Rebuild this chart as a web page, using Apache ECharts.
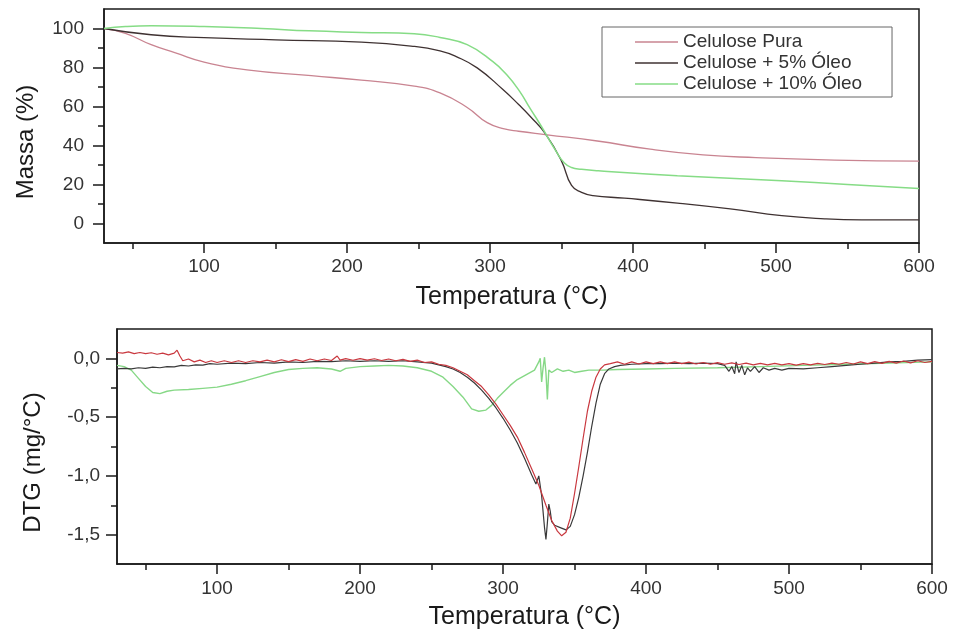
<!DOCTYPE html>
<html>
<head>
<meta charset="utf-8">
<script src="https://cdn.jsdelivr.net/npm/echarts@6.0.0/dist/echarts.min.js"></script>
<style>
html,body{margin:0;padding:0;background:#fff;}
#chart{width:953px;height:634px;}
</style>
</head>
<body>
<div id="chart"></div>
<script>
// ---- Data ----
var seriesNames = ['Celulose Pura', 'Celulose + 5% Óleo', 'Celulose + 10% Óleo'];

var xMajorTicks = [100, 200, 300, 400, 500, 600];
var xMinorTicks = [50, 150, 250, 350, 450, 550];
var tgaMajorTicks = [0, 20, 40, 60, 80, 100];
var tgaMinorTicks = [10, 30, 50, 70, 90];
var dtgMajorTicks = [-1.5, -1.0, -0.5, 0.0];
var dtgMinorTicks = [-1.25, -0.75, -0.25];

// TGA mass (%) vs temperature (°C)
var tgaPura = [[30,100],[45,97.5],[63,91.7],[80,87.5],[100,82.8],[130,78.8],[175,75.8],[210,73.5],[247,70.4],[265,67],[284,59.5],[298,51.7],[310,48.5],[320,47.3],[340,45.5],[375,42.3],[412,38.1],[449,35.2],[486,33.8],[541,32.5],[600,32]];
var tga5 = [[30,100],[63,96.8],[100,95.3],[150,94.2],[210,93],[247,90.8],[265,88.5],[276,85.7],[291,79.8],[309,68.7],[320,61],[328,55],[339,45.7],[350,32],[357,19.5],[364,16],[372,14.3],[394,13],[431,10.5],[468,7.5],[504,4],[534,2.4],[560,1.9],[600,1.9]];
var tga10 = [[30,100],[45,101],[63,101.4],[100,101],[140,100],[173.5,98.8],[210,98],[247,97.3],[265,95.4],[284,91.7],[302,83],[312,76],[320.6,67.9],[328,59],[335,50.9],[346,37.2],[352,31],[357,28.7],[364,27.8],[375.7,27],[431,24.5],[504,21.9],[550,20],[600,17.9]];

// DTG (mg/°C) vs temperature (°C)
var dtgRed = [[30,0.05],[34,0.045],[38,0.055],[42,0.04],[46,0.05],[50,0.04],[54,0.048],[58,0.035],[62,0.045],[66,0.03],[70,0.045],[72,0.07],[74,0.02],[76,-0.02],[80,-0.005],[84,-0.03],[88,-0.015],[92,-0.035],[96,-0.02],[100,-0.035],[105,-0.02],[110,-0.035],[115,-0.02],[120,-0.035],[125,-0.02],[130,-0.03],[135,-0.015],[140,-0.03],[145,-0.012],[150,-0.028],[155,-0.01],[160,-0.025],[165,-0.005],[170,-0.02],[175,-0.005],[180,-0.018],[184,0.02],[186,-0.015],[190,-0.002],[195,-0.016],[200,-0.002],[205,-0.015],[210,-0.003],[215,-0.018],[220,-0.005],[225,-0.02],[230,-0.008],[235,-0.025],[240,-0.015],[245,-0.035],[250,-0.03],[255,-0.05],[260,-0.06],[265,-0.08],[270,-0.11],[275,-0.14],[280,-0.19],[285,-0.24],[290,-0.31],[295,-0.39],[300,-0.48],[305,-0.57],[310,-0.67],[315,-0.8],[320,-0.94],[325,-1.08],[330,-1.25],[334,-1.38],[338,-1.47],[341,-1.51],[344,-1.48],[347,-1.36],[350,-1.15],[353,-0.92],[356,-0.68],[359,-0.45],[362,-0.28],[365,-0.16],[368,-0.09],[371,-0.055],[375,-0.045],[380,-0.03],[385,-0.05],[390,-0.03],[395,-0.048],[400,-0.03],[405,-0.045],[410,-0.03],[415,-0.045],[420,-0.03],[425,-0.045],[430,-0.032],[435,-0.048],[440,-0.035],[445,-0.05],[450,-0.036],[455,-0.05],[460,-0.038],[465,-0.052],[470,-0.04],[475,-0.055],[480,-0.042],[485,-0.055],[490,-0.042],[495,-0.055],[500,-0.045],[505,-0.058],[510,-0.045],[515,-0.055],[520,-0.042],[525,-0.052],[530,-0.04],[535,-0.05],[540,-0.035],[545,-0.048],[550,-0.03],[555,-0.045],[560,-0.028],[565,-0.042],[570,-0.025],[575,-0.04],[580,-0.022],[585,-0.038],[590,-0.02],[595,-0.035],[600,-0.025]];
var dtgBlack = [[30,-0.09],[35,-0.085],[40,-0.09],[45,-0.08],[50,-0.085],[55,-0.075],[60,-0.08],[65,-0.07],[70,-0.072],[75,-0.06],[80,-0.065],[85,-0.055],[90,-0.058],[95,-0.045],[100,-0.05],[110,-0.04],[120,-0.045],[130,-0.035],[140,-0.04],[150,-0.03],[160,-0.035],[170,-0.025],[180,-0.028],[190,-0.02],[200,-0.025],[210,-0.02],[220,-0.025],[230,-0.02],[240,-0.03],[250,-0.04],[255,-0.055],[260,-0.07],[265,-0.09],[270,-0.12],[275,-0.16],[280,-0.21],[285,-0.27],[290,-0.34],[295,-0.42],[300,-0.51],[305,-0.61],[310,-0.72],[315,-0.85],[320,-0.99],[323,-1.07],[325,-1.0],[327,-1.17],[329,-1.44],[330,-1.54],[331,-1.4],[332,-1.24],[333,-1.3],[334,-1.39],[336,-1.42],[340,-1.44],[344,-1.46],[347,-1.43],[350,-1.33],[353,-1.18],[356,-1.0],[359,-0.8],[362,-0.58],[365,-0.38],[368,-0.22],[371,-0.13],[374,-0.09],[378,-0.07],[382,-0.06],[390,-0.05],[400,-0.045],[410,-0.045],[420,-0.04],[430,-0.045],[440,-0.04],[450,-0.045],[455,-0.06],[458,-0.11],[460,-0.07],[462,-0.13],[463,-0.03],[465,-0.12],[467,-0.06],[469,-0.14],[471,-0.08],[473,-0.11],[476,-0.07],[479,-0.12],[482,-0.08],[486,-0.1],[490,-0.085],[495,-0.1],[500,-0.085],[510,-0.09],[520,-0.08],[530,-0.07],[540,-0.06],[550,-0.05],[560,-0.04],[570,-0.03],[580,-0.025],[590,-0.015],[600,-0.01]];
var dtgGreen = [[30,-0.06],[35,-0.07],[40,-0.1],[45,-0.17],[50,-0.24],[55,-0.29],[60,-0.3],[65,-0.28],[70,-0.27],[80,-0.265],[90,-0.255],[100,-0.245],[110,-0.22],[120,-0.19],[130,-0.155],[140,-0.12],[150,-0.095],[160,-0.085],[170,-0.08],[180,-0.09],[186,-0.11],[190,-0.085],[200,-0.07],[210,-0.065],[220,-0.06],[230,-0.065],[240,-0.08],[250,-0.11],[258,-0.16],[265,-0.24],[272,-0.33],[278,-0.43],[283,-0.45],[288,-0.44],[292,-0.4],[296,-0.34],[300,-0.29],[305,-0.23],[310,-0.18],[316,-0.14],[322,-0.1],[325,-0.03],[326,0.0],[327,-0.2],[328,-0.08],[329,0.01],[330,-0.12],[331,-0.35],[332,-0.1],[334,-0.12],[338,-0.09],[342,-0.11],[346,-0.1],[350,-0.12],[355,-0.11],[360,-0.1],[370,-0.1],[380,-0.095],[400,-0.09],[420,-0.085],[450,-0.08],[480,-0.07],[510,-0.06],[540,-0.05],[570,-0.04],[600,-0.03]];

// ---- Styles ----
var FONT = 'Liberation Sans, Arial, sans-serif';
var cPura = '#c98491', c5 = '#3f3232', c10 = '#86dc86';
var cRed = '#c9383f', cBlack = '#3a3a3a', cGreen = '#86d886';
var AX = '#1a1a1a';

function mainX(grid, gap, labelMargin) {
  return {
    type: 'value', gridIndex: grid, min: 30, max: 600, position: 'bottom',
    name: 'Temperatura (°C)', nameLocation: 'middle', nameGap: gap,
    nameTextStyle: {fontFamily: FONT, fontSize: 25, color: AX},
    axisLine: {show: true, onZero: false, lineStyle: {color: AX, width: 1.5}},
    axisTick: {show: true, inside: false, length: 10, customValues: xMajorTicks, lineStyle: {color: AX, width: 1.5}},
    axisLabel: {show: true, customValues: xMajorTicks, margin: labelMargin, fontFamily: FONT, fontSize: 19, color: '#333'},
    splitLine: {show: false}
  };
}
function minorX(grid) {
  return {
    type: 'value', gridIndex: grid, min: 30, max: 600, position: 'bottom',
    axisLine: {show: false, onZero: false},
    axisTick: {show: true, inside: false, length: 6, customValues: xMinorTicks, lineStyle: {color: AX, width: 1.5}},
    axisLabel: {show: false}, splitLine: {show: false}
  };
}
function mainY(grid, min, max, name, gap, ticks, margin, fmt) {
  var lab = {show: true, customValues: ticks, margin: margin, fontFamily: FONT, fontSize: 19, color: '#333'};
  if (fmt) lab.formatter = fmt;
  return {
    type: 'value', gridIndex: grid, min: min, max: max, position: 'left',
    name: name, nameLocation: 'middle', nameGap: gap, nameRotate: 90,
    nameTextStyle: {fontFamily: FONT, fontSize: 24, color: AX, padding: [0, 32, 0, 0]},
    axisLine: {show: true, onZero: false, lineStyle: {color: AX, width: 1.5}},
    axisTick: {show: true, inside: false, length: 11, customValues: ticks, lineStyle: {color: AX, width: 1.5}},
    axisLabel: lab,
    splitLine: {show: false}
  };
}
function minorY(grid, min, max, ticks) {
  return {
    type: 'value', gridIndex: grid, min: min, max: max, position: 'left',
    axisLine: {show: false, onZero: false},
    axisTick: {show: true, inside: false, length: 6, customValues: ticks, lineStyle: {color: AX, width: 1.5}},
    axisLabel: {show: false}, splitLine: {show: false}
  };
}

var option = {
  animation: false,
  backgroundColor: '#ffffff',
  grid: [
    {left: 104, top: 9, width: 815, height: 234, show: true, borderColor: AX, borderWidth: 1.5, containLabel: false},
    {left: 117, top: 329, width: 815, height: 235, show: true, borderColor: AX, borderWidth: 1.5, containLabel: false}
  ],
  legend: {
    left: 602, top: 27, orient: 'vertical',
    data: seriesNames,
    icon: 'rect',
    itemWidth: 43, itemHeight: 1.5, itemGap: 1,
    padding: [5, 30, 3, 33],
    borderColor: '#666', borderWidth: 1,
    textStyle: {fontFamily: FONT, fontSize: 19, color: '#333', lineHeight: 20}
  },
  xAxis: [mainX(0, 42, 14), minorX(0), mainX(1, 41, 15), minorX(1)],
  yAxis: [
    mainY(0, -10, 110, 'Massa (%)', 66, tgaMajorTicks, 20, null),
    minorY(0, -10, 110, tgaMinorTicks),
    mainY(1, -1.75, 0.25, 'DTG (mg/°C)', 72, dtgMajorTicks, 17, function (v) { return v.toFixed(1).replace('.', ','); }),
    minorY(1, -1.75, 0.25, dtgMinorTicks)
  ],
  series: [
    {name: seriesNames[0], type: 'line', xAxisIndex: 0, yAxisIndex: 0, data: tgaPura, symbol: 'none', smooth: 0.5, color: cPura, lineStyle: {width: 1.3, color: cPura}},
    {name: seriesNames[1], type: 'line', xAxisIndex: 0, yAxisIndex: 0, data: tga5, symbol: 'none', smooth: 0.5, color: c5, lineStyle: {width: 1.3, color: c5}},
    {name: seriesNames[2], type: 'line', xAxisIndex: 0, yAxisIndex: 0, data: tga10, symbol: 'none', smooth: 0.5, color: c10, lineStyle: {width: 1.5, color: c10}},
    {name: 'DTG green', type: 'line', xAxisIndex: 2, yAxisIndex: 2, data: dtgGreen, symbol: 'none', color: cGreen, lineStyle: {width: 1.4, color: cGreen}},
    {name: 'DTG black', type: 'line', xAxisIndex: 2, yAxisIndex: 2, data: dtgBlack, symbol: 'none', color: cBlack, lineStyle: {width: 1.2, color: cBlack}},
    {name: 'DTG red', type: 'line', xAxisIndex: 2, yAxisIndex: 2, data: dtgRed, symbol: 'none', color: cRed, lineStyle: {width: 1.2, color: cRed}}
  ]
};

var chart = echarts.init(document.getElementById('chart'), null, {renderer: 'canvas'});
chart.setOption(option);
</script>
</body>
</html>
